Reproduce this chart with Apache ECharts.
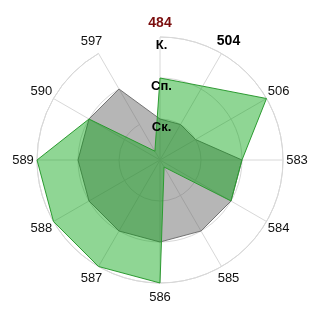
<!DOCTYPE html>
<html>
<head>
<meta charset="utf-8">
<script src="https://cdn.jsdelivr.net/npm/echarts@6/dist/echarts.min.js"></script>
<style>html,body{margin:0;padding:0;background:#fff}#c{width:320px;height:320px}</style>
</head>
<body>
<div id="c"></div>
<script>
const categories = ['484','504','506','583','584','585','586','587','588','589','590','597'];
const grayValues = [1, 1, 1, 2, 2, 2, 2, 2, 2, 2, 2, 2];
const greenValues = [2, 2.08, 3, 2, 2, 0.2, 3, 3, 3, 3, 2, 0.25];
const radialLabels = ['', 'Ск.', 'Сп.', 'К.'];
const labelStyles = {
  '484': {color: '#7a0d0d', fontWeight: 'bold', fontSize: 14},
  '504': {color: '#000', fontWeight: 'bold', fontSize: 14}
};

const FONT = "'Liberation Sans', Arial, sans-serif";
const R = 123;
const gridColor = '#d8d8d8';

// radar indicators go counter-clockwise, so reverse order after the first
const order = [0].concat(categories.map((c, i) => i).slice(1).reverse());
const indicator = order.map(i => ({name: categories[i], min: 0, max: 3}));

const labelData = categories.map((c, i) => {
  const item = {value: [1, i], name: c};
  if (labelStyles[c]) item.label = labelStyles[c];
  return item;
});

const chart = echarts.init(document.getElementById('c'), null, {renderer: 'canvas'});
chart.setOption({
  animation: false,
  backgroundColor: '#fff',
  polar: [
    {center: ['50%', '50%'], radius: R},
    {center: ['50%', '50%'], radius: 137},
    {center: ['50%', '50%'], radius: R}
  ],
  angleAxis: [
    {
      polarIndex: 0, type: 'category', data: categories, startAngle: 90, clockwise: true, boundaryGap: false,
      axisLine: {show: true, lineStyle: {color: gridColor, width: 1}},
      axisTick: {show: false}, axisLabel: {show: false},
      splitLine: {show: true, lineStyle: {color: gridColor, width: 1}}
    },
    {
      polarIndex: 1, type: 'category', data: categories, startAngle: 90, clockwise: true, boundaryGap: false,
      axisLine: {show: false}, axisTick: {show: false}, axisLabel: {show: false}, splitLine: {show: false}
    },
    {
      polarIndex: 2, type: 'category', data: categories, startAngle: 90, clockwise: true, boundaryGap: false,
      axisLine: {show: false}, axisTick: {show: false}, axisLabel: {show: false}, splitLine: {show: false}
    }
  ],
  radiusAxis: [
    {
      polarIndex: 0, type: 'value', min: 0, max: 3, interval: 1,
      axisLine: {show: false}, axisTick: {show: false}, axisLabel: {show: false},
      splitLine: {show: true, lineStyle: {color: gridColor, width: 1}}
    },
    {
      polarIndex: 1, type: 'value', min: 0, max: 1,
      axisLine: {show: false}, axisTick: {show: false}, axisLabel: {show: false}, splitLine: {show: false}
    },
    {
      polarIndex: 2, type: 'value', min: 0, max: 3, interval: 1, z: 20,
      axisLine: {show: false}, axisTick: {show: false}, splitLine: {show: false},
      axisLabel: {
        show: true, margin: 0, align: 'center', verticalAlign: 'top',
        padding: [2, 0, 0, 3],
        fontFamily: FONT, fontSize: 13, fontWeight: 'bold', color: '#000',
        formatter: v => radialLabels[Math.round(v)] || ''
      }
    }
  ],
  radar: {
    center: ['50%', '50%'], radius: R, startAngle: 90, shape: 'circle',
    indicator: indicator,
    axisName: {show: false},
    axisLine: {show: false}, splitLine: {show: false}, splitArea: {show: false}, axisTick: {show: false}, axisLabel: {show: false}
  },
  series: [
    {
      type: 'radar', z: 3, symbol: 'none',
      lineStyle: {color: '#7a7a7a', width: 1},
      areaStyle: {color: 'rgba(100,100,100,0.47)', opacity: 1},
      data: [{value: order.map(i => grayValues[i])}]
    },
    {
      type: 'radar', z: 4, symbol: 'none',
      lineStyle: {color: '#3a9a3e', width: 1},
      areaStyle: {color: 'rgba(0,162,12,0.44)', opacity: 1},
      data: [{value: order.map(i => greenValues[i])}]
    },
    {
      type: 'scatter', coordinateSystem: 'polar', polarIndex: 1, z: 10,
      symbol: 'circle', symbolSize: 2, itemStyle: {color: 'rgba(0,0,0,0)', opacity: 1}, silent: true,
      label: {
        show: true, position: 'inside', fontFamily: FONT, fontSize: 13, color: '#111',
        opacity: 1, textBorderWidth: 0,
        formatter: p => p.name
      },
      labelLayout: {hideOverlap: false},
      data: labelData
    }
  ]
});
</script>
</body>
</html>
